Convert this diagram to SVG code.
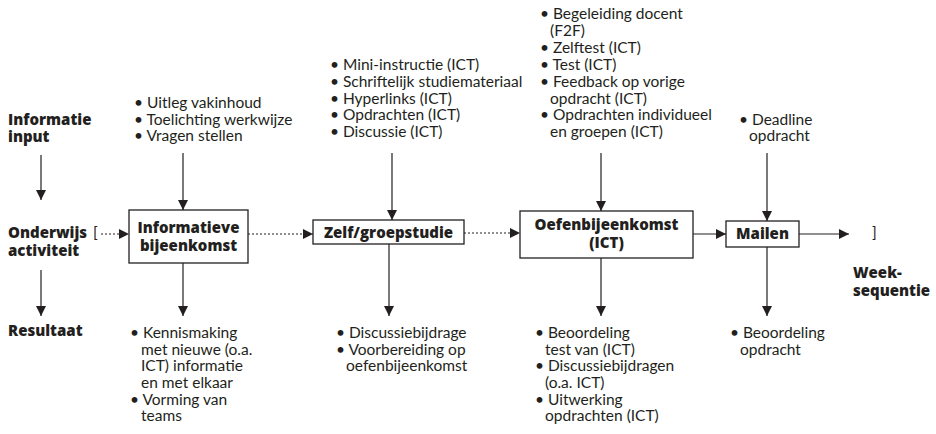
<svg xmlns="http://www.w3.org/2000/svg" width="936" height="434" viewBox="0 0 936 434">
<defs>
<style>
text{font-family:Lato,"Open Sans","Liberation Sans",sans-serif;font-size:15.5px;fill:#231f20}
.b{font-family:"Open Sans","Noto Sans","Liberation Sans",sans-serif;font-weight:800;font-size:15px}
.ln{stroke:#231f20;stroke-width:1.2;fill:none}
.dt{stroke:#231f20;stroke-width:1;stroke-dasharray:2,2;fill:none}
.box{fill:#fff;stroke:#231f20;stroke-width:1.3}
</style>
<marker id="ah" viewBox="0 0 10 10" refX="10" refY="5" markerWidth="10" markerHeight="10" markerUnits="userSpaceOnUse" orient="auto">
<path d="M0,0 L10,5 L0,10 z" fill="#231f20"/>
</marker>
</defs>
<rect width="936" height="434" fill="#fff"/>
<g id="labels">
<text class="b" x="8" y="125">Informatie</text>
<text class="b" x="8" y="142">input</text>
<text class="b" x="8" y="238">Onderwijs</text>
<text x="93" y="238">[</text>
<text class="b" x="8" y="256">activiteit</text>
<text class="b" x="8" y="336">Resultaat</text>
<text x="872" y="238">]</text>
<text class="b" x="853" y="278">Week-</text>
<text class="b" x="853" y="296">sequentie</text>
</g>
<g id="connectors">
<line class="ln" x1="41" y1="155" x2="41" y2="200" marker-end="url(#ah)"/>
<line class="ln" x1="41" y1="270" x2="41" y2="316" marker-end="url(#ah)"/>
<line class="ln" x1="183" y1="153" x2="183" y2="210" marker-end="url(#ah)"/>
<line class="ln" x1="183" y1="263" x2="183" y2="316" marker-end="url(#ah)"/>
<line class="ln" x1="392" y1="153" x2="392" y2="220" marker-end="url(#ah)"/>
<line class="ln" x1="389" y1="244" x2="389" y2="316" marker-end="url(#ah)"/>
<line class="ln" x1="601" y1="153" x2="601" y2="211" marker-end="url(#ah)"/>
<line class="ln" x1="601" y1="258" x2="601" y2="316" marker-end="url(#ah)"/>
<line class="ln" x1="767" y1="153" x2="767" y2="221" marker-end="url(#ah)"/>
<line class="ln" x1="767" y1="247" x2="767" y2="316" marker-end="url(#ah)"/>
<line class="dt" x1="101" y1="234" x2="129" y2="234" marker-end="url(#ah)"/>
<line class="dt" x1="248" y1="234" x2="313" y2="234" marker-end="url(#ah)"/>
<line class="dt" x1="464" y1="233" x2="520" y2="233" marker-end="url(#ah)"/>
<line class="ln" x1="693" y1="234" x2="726" y2="234" marker-end="url(#ah)"/>
<line class="ln" x1="799" y1="234" x2="849" y2="234" marker-end="url(#ah)"/>
</g>
<g id="informatieve">
<rect class="box" x="129" y="210" width="119" height="53"/>
<text class="b" x="188.5" y="233" text-anchor="middle">Informatieve</text>
<text class="b" x="188.5" y="251" text-anchor="middle">bijeenkomst</text>
</g>
<g id="zelfstudie">
<rect class="box" x="313" y="220" width="151" height="24"/>
<text class="b" x="388.5" y="238" text-anchor="middle">Zelf/groepstudie</text>
</g>
<g id="oefen">
<rect class="box" x="520" y="211" width="173" height="47"/>
<text class="b" x="606.5" y="230" text-anchor="middle">Oefenbijeenkomst</text>
<text class="b" x="606.5" y="248" text-anchor="middle">(ICT)</text>
</g>
<g id="mailen">
<rect class="box" x="726" y="221" width="73" height="26"/>
<text class="b" x="762.5" y="239" text-anchor="middle">Mailen</text>
</g>
<g id="input1">
<text x="134" y="108">• Uitleg vakinhoud</text>
<text x="134" y="125">• Toelichting werkwijze</text>
<text x="134" y="141">• Vragen stellen</text>
</g>
<g id="input2">
<text x="330" y="70">• Mini-instructie (ICT)</text>
<text x="330" y="87">• Schriftelijk studiemateriaal</text>
<text x="330" y="104">• Hyperlinks (ICT)</text>
<text x="330" y="120">• Opdrachten (ICT)</text>
<text x="330" y="137">• Discussie (ICT)</text>
</g>
<g id="input3">
<text x="540" y="19">• Begeleiding docent</text>
<text x="550" y="36">(F2F)</text>
<text x="540" y="53">• Zelftest (ICT)</text>
<text x="540" y="70">• Test (ICT)</text>
<text x="540" y="87">• Feedback  op vorige</text>
<text x="550" y="104">opdracht (ICT)</text>
<text x="540" y="120">• Opdrachten individueel</text>
<text x="550" y="137">en groepen (ICT)</text>
</g>
<g id="input4">
<text x="739" y="125">• Deadline</text>
<text x="749" y="141">opdracht</text>
</g>
<g id="result1">
<text x="130" y="338">• Kennismaking</text>
<text x="141" y="355">met nieuwe (o.a.</text>
<text x="141" y="371">ICT) informatie</text>
<text x="141" y="388">en met elkaar</text>
<text x="130" y="405">• Vorming van</text>
<text x="141" y="421">teams</text>
</g>
<g id="result2">
<text x="336" y="338">• Discussiebijdrage</text>
<text x="336" y="355">• Voorbereiding op</text>
<text x="346" y="371">oefenbijeenkomst</text>
</g>
<g id="result3">
<text x="535" y="338">• Beoordeling</text>
<text x="545" y="355">test van (ICT)</text>
<text x="535" y="371">• Discussiebijdragen</text>
<text x="545" y="388">(o.a. ICT)</text>
<text x="535" y="405">• Uitwerking</text>
<text x="545" y="421">opdrachten (ICT)</text>
</g>
<g id="result4">
<text x="730" y="338">• Beoordeling</text>
<text x="740" y="355">opdracht</text>
</g>
</svg>
